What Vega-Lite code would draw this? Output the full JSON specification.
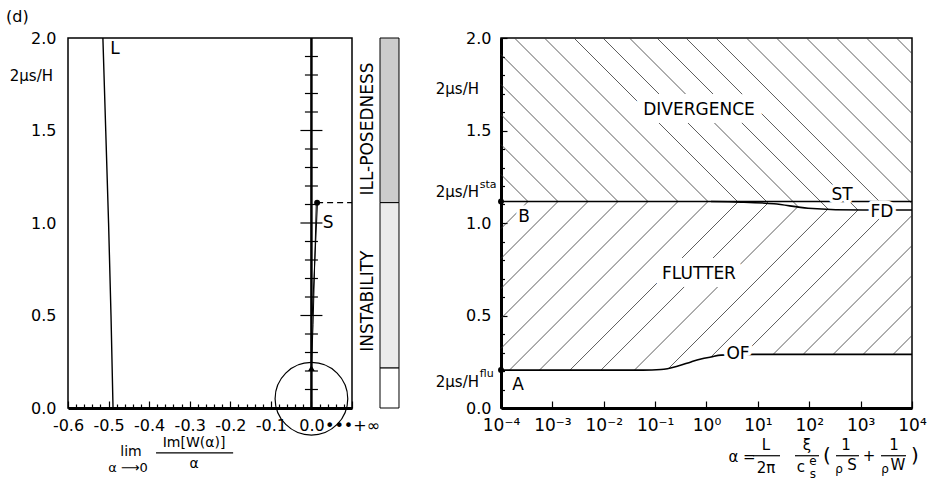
{
"$schema":"https://vega.github.io/schema/vega-lite/v6.json",
"background":"white",
"padding":{"left":5,"top":8,"right":5,"bottom":5},
"config":{"font":"DejaVu Sans","view":{"stroke":"black","strokeWidth":1.5},"axis":{"labelColor":"black","labelFont":"DejaVu Sans","tickColor":"black","domainColor":"black","grid":false,"labelFlush":false,"labelOverlap":false}},
"bounds":"flush",
"spacing":28,
"hconcat":[
{"width":284,"height":370,
"resolve":{"axis":{"x":"independent","y":"independent"}},
"layer":[
{"data":{"values":[{"m":-0.489,"h":0},{"m":-0.494,"h":0.5},{"m":-0.5,"h":1},{"m":-0.507,"h":1.5},{"m":-0.514,"h":2}]},
"mark":{"type":"line","color":"black","strokeWidth":1.4},
"encoding":{
"x":{"field":"m","type":"quantitative","scale":{"domain":[-0.6,0.1],"nice":false,"zero":false},
"axis":{"title":null,"orient":"bottom","values":[-0.6,-0.5,-0.4,-0.3,-0.2,-0.1,0,0.1],"tickSize":-7,"tickWidth":1.2,"labelPadding":16,"domainWidth":3,"labelFontSize":16,"labelExpr":"datum.value > 0.05 ? '•••+∞' : replace(format(datum.value, '.1f'), '−', '-')"}},
"y":{"field":"h","type":"quantitative","scale":{"domain":[0,2],"nice":false,"zero":false},
"axis":{"title":null,"orient":"left","values":[0,0.5,1,1.5,2],"ticks":false,"domain":false,"labelPadding":12,"format":".1f","labelFontSize":16}},
"order":{"field":"h","type":"quantitative"}}},
{"data":{"values":[{"id":1,"m":0,"h":0.216},{"id":1,"m":0.004,"h":0.45},{"id":1,"m":0.012,"h":1.11},{"id":2,"m":0.002,"h":0.5},{"id":2,"m":0.015,"h":1.11}]},
"mark":{"type":"line","color":"black","strokeWidth":1},
"encoding":{
"x":{"field":"m","type":"quantitative","axis":{"title":null,"orient":"bottom","values":[-0.58,-0.56,-0.54,-0.52,-0.48,-0.46,-0.44,-0.42,-0.38,-0.36,-0.34,-0.32,-0.28,-0.26,-0.24,-0.22,-0.18,-0.16,-0.14,-0.12,-0.08,-0.06,-0.04,-0.02,0.02,0.04,0.06,0.08],"tickSize":-4,"tickWidth":1.2,"labels":false,"domain":false}},
"y":{"field":"h","type":"quantitative","axis":null},
"detail":{"field":"id","type":"nominal"},
"order":{"field":"h","type":"quantitative"}}},
{"data":{"values":[{"m":0,"h":0,"h2":2}]},
"mark":{"type":"rule","color":"black","strokeWidth":2.5},
"encoding":{"x":{"field":"m","type":"quantitative","axis":null},"y":{"field":"h","type":"quantitative","axis":null},"y2":{"field":"h2"}}},
{"data":{"values":[{"h":0.1},{"h":0.2},{"h":0.3},{"h":0.4},{"h":0.6},{"h":0.7},{"h":0.8},{"h":0.9},{"h":1.1},{"h":1.2},{"h":1.3},{"h":1.4},{"h":1.6},{"h":1.7},{"h":1.8},{"h":1.9}]},
"mark":{"type":"tick","orient":"horizontal","size":13,"thickness":1.2,"color":"black","opacity":1},
"encoding":{"x":{"datum":0,"type":"quantitative","axis":null},"y":{"field":"h","type":"quantitative","axis":null}}},
{"data":{"values":[{"h":0.5},{"h":1},{"h":1.5}]},
"mark":{"type":"tick","orient":"horizontal","size":22,"thickness":1.2,"color":"black","opacity":1},
"encoding":{"x":{"datum":0,"type":"quantitative","axis":null},"y":{"field":"h","type":"quantitative","axis":null}}},
{"data":{"values":[{"m":0.014,"m2":0.1,"h":1.11}]},
"mark":{"type":"rule","color":"black","strokeWidth":1.2,"strokeDash":[6,4]},
"encoding":{"x":{"field":"m","type":"quantitative","axis":null},"x2":{"field":"m2"},"y":{"field":"h","type":"quantitative","axis":null}}},
{"data":{"values":[{"m":0.014,"h":1.11}]},
"mark":{"type":"point","shape":"circle","filled":true,"color":"black","size":35,"opacity":1},
"encoding":{"x":{"field":"m","type":"quantitative","axis":null},"y":{"field":"h","type":"quantitative","axis":null}}},
{"data":{"values":[{"m":0,"h":0.216}]},
"mark":{"type":"point","shape":"triangle-up","filled":true,"color":"black","size":45,"opacity":1},
"encoding":{"x":{"field":"m","type":"quantitative","axis":null},"y":{"field":"h","type":"quantitative","axis":null}}},
{"data":{"values":[{"m":0,"h":0.05}]},
"mark":{"type":"point","shape":"circle","filled":false,"color":"black","strokeWidth":1.2,"size":5281,"opacity":1},
"encoding":{"x":{"field":"m","type":"quantitative","axis":null},"y":{"field":"h","type":"quantitative","axis":null}}},
{"data":{"values":[{"t":"L","m":-0.484,"h":1.941},{"t":"S","m":0.041,"h":1.0}]},
"mark":{"type":"text","fontSize":17,"color":"black","align":"center","baseline":"middle"},
"encoding":{"x":{"field":"m","type":"quantitative","axis":null},"y":{"field":"h","type":"quantitative","axis":null},"text":{"field":"t"}}},
{"data":{"values":[{"t":"ILL-POSEDNESS","m":0.1395,"h":1.508},{"t":"INSTABILITY","m":0.1395,"h":0.578}]},
"mark":{"type":"text","fontSize":17,"color":"black","align":"center","baseline":"middle","angle":270},
"encoding":{"x":{"field":"m","type":"quantitative","axis":null},"y":{"field":"h","type":"quantitative","axis":null},"text":{"field":"t"}}},
{"data":{"values":[{"t":"(d)","m":-0.7528,"h":2.157}]},
"mark":{"type":"text","fontSize":16,"color":"black","align":"left","baseline":"top"},
"encoding":{"x":{"field":"m","type":"quantitative","axis":null},"y":{"field":"h","type":"quantitative","axis":null},"text":{"field":"t"}}},
{"data":{"values":[{"t":"2μs/H","m":-0.637,"h":1.795}]},
"mark":{"type":"text","fontSize":15,"color":"black","align":"right","baseline":"middle"},
"encoding":{"x":{"field":"m","type":"quantitative","axis":null},"y":{"field":"h","type":"quantitative","axis":null},"text":{"field":"t"}}},
{"data":{"values":[{"t":"lim","m":-0.4447,"h":-0.24},{"t":"Im[W(α)]","m":-0.2894,"h":-0.19},{"t":"α","m":-0.2894,"h":-0.305}]},
"mark":{"type":"text","fontSize":14,"color":"black","align":"center","baseline":"middle"},
"encoding":{"x":{"field":"m","type":"quantitative","axis":null},"y":{"field":"h","type":"quantitative","axis":null},"text":{"field":"t"}}},
{"data":{"values":[{"t":"α ⟶0","m":-0.452,"h":-0.325}]},
"mark":{"type":"text","fontSize":13,"color":"black","align":"center","baseline":"middle"},
"encoding":{"x":{"field":"m","type":"quantitative","axis":null},"y":{"field":"h","type":"quantitative","axis":null},"text":{"field":"t"}}},
{"data":{"values":[{"m":-0.383,"m2":-0.193,"h":-0.243}]},
"mark":{"type":"rule","color":"black","strokeWidth":1.2},
"encoding":{"x":{"field":"m","type":"quantitative","axis":null},"x2":{"field":"m2"},"y":{"field":"h","type":"quantitative","axis":null}}}
]},
{"width":93,"height":370,"view":{"stroke":null},
"data":{"values":[{"zone":"ill-posedness","lo":1.11,"hi":2.0},{"zone":"instability","lo":0.216,"hi":1.11},{"zone":"stable","lo":0,"hi":0.216}]},
"mark":{"type":"rect","stroke":"black","strokeWidth":1},
"encoding":{
"x":{"datum":0,"type":"quantitative","scale":{"domain":[0,4.895],"nice":false,"zero":false},"axis":null},
"x2":{"datum":1},
"y":{"field":"lo","type":"quantitative","scale":{"domain":[0,2],"nice":false},"axis":null},"y2":{"field":"hi"},
"fill":{"field":"zone","type":"nominal","scale":{"domain":["ill-posedness","instability","stable"],"range":["#cccccc","#ebebeb","#ffffff"]},"legend":null}}},
{"width":411,"height":370,
"resolve":{"axis":{"x":"independent","y":"independent"}},
"layer":[
{"data":{"values":[
{"a":0.0003353,"b":1.116,"a2":0.0001,"b2":1.262},
{"a":0.0012864,"b":1.116,"a2":0.0001,"b2":1.424},
{"a":0.004935,"b":1.116,"a2":0.0001,"b2":1.586},
{"a":0.018934,"b":1.116,"a2":0.0001,"b2":1.749},
{"a":0.07264,"b":1.116,"a2":0.0001,"b2":1.911},
{"a":0.27869,"b":1.116,"a2":0.0001832,"b2":2},
{"a":1.0692,"b":1.116,"a2":0.0007025,"b2":2},
{"a":4.102,"b":1.1135,"a2":0.002636,"b2":2},
{"a":15.737,"b":1.108,"a2":0.009669,"b2":2},
{"a":60.38,"b":1.089,"a2":0.03171,"b2":2},
{"a":231.6,"b":1.076,"a2":0.10877,"b2":2},
{"a":888.6,"b":1.07,"a2":0.399,"b2":2},
{"a":3409,"b":1.07,"a2":1.5306,"b2":2},
{"a":10000,"b":1.105,"a2":6.005,"b2":2},
{"a":10000,"b":1.268,"a2":23.04,"b2":2},
{"a":10000,"b":1.43,"a2":88.43,"b2":2},
{"a":10000,"b":1.592,"a2":339.1,"b2":2},
{"a":10000,"b":1.754,"a2":1301,"b2":2},
{"a":10000,"b":1.916,"a2":4993,"b2":2},
{"a":0.0003353,"b":1.116,"a2":0.0001,"b2":0.97},
{"a":0.0012864,"b":1.116,"a2":0.0001,"b2":0.808},
{"a":0.004935,"b":1.116,"a2":0.0001,"b2":0.646},
{"a":0.018934,"b":1.116,"a2":0.0001,"b2":0.484},
{"a":0.07264,"b":1.116,"a2":0.0001,"b2":0.322},
{"a":0.27869,"b":1.116,"a2":0.00014645,"b2":0.205},
{"a":1.0692,"b":1.116,"a2":0.0005616,"b2":0.205},
{"a":4.102,"b":1.1135,"a2":0.002203,"b2":0.205},
{"a":15.737,"b":1.108,"a2":0.008843,"b2":0.205},
{"a":60.38,"b":1.089,"a2":0.03967,"b2":0.205},
{"a":231.6,"b":1.076,"a2":0.1879,"b2":0.217},
{"a":888.6,"b":1.07,"a2":1.2233,"b2":0.276},
{"a":3409,"b":1.07,"a2":5.252,"b2":0.289},
{"a":10000,"b":1.041,"a2":19.88,"b2":0.29},
{"a":10000,"b":0.878,"a2":76.24,"b2":0.29},
{"a":10000,"b":0.716,"a2":292.6,"b2":0.29},
{"a":10000,"b":0.554,"a2":1122,"b2":0.29},
{"a":10000,"b":0.392,"a2":4305,"b2":0.29}
]},
"mark":{"type":"rule","color":"#333333","strokeWidth":0.8},
"encoding":{
"x":{"field":"a","type":"quantitative","scale":{"type":"log","domain":[0.0001,10000],"nice":false},
"axis":{"title":null,"orient":"bottom","values":[0.0001,0.001,0.01,0.1,1,10,100,1000,10000],"tickSize":-7,"tickWidth":1.2,"labelPadding":16,"domainWidth":3,"labelFontSize":17,"labelExpr":"'10' + (datum.value < 1 ? '⁻' : '') + ['⁰','¹','²','³','⁴'][abs(round(log(datum.value)/LN10))]"}},
"x2":{"field":"a2"},
"y":{"field":"b","type":"quantitative","scale":{"domain":[0,2],"nice":false,"zero":false},
"axis":{"title":null,"orient":"left","values":[0,0.5,1,1.5,2],"tickSize":-6,"tickWidth":1.2,"labelPadding":16,"domainWidth":3,"format":".1f","labelFontSize":16}},
"y2":{"field":"b2"}}},
{"data":{"values":[
{"curve":"ST","a":0.0001,"b":1.116},{"curve":"ST","a":10000,"b":1.116},
{"curve":"FD","a":1.224,"b":1.116},{"curve":"FD","a":4.677,"b":1.113},{"curve":"FD","a":20.6,"b":1.104},{"curve":"FD","a":94.6,"b":1.08},{"curve":"FD","a":1112,"b":1.07},{"curve":"FD","a":10000,"b":1.07},
{"curve":"OF","a":0.0001,"b":0.205},{"curve":"OF","a":0.05808,"b":0.205},{"curve":"OF","a":0.13,"b":0.208},{"curve":"OF","a":0.2786,"b":0.227},{"curve":"OF","a":0.4989,"b":0.249},{"curve":"OF","a":0.7816,"b":0.265},{"curve":"OF","a":1.2246,"b":0.276},{"curve":"OF","a":1.914,"b":0.286},{"curve":"OF","a":8.414,"b":0.29},{"curve":"OF","a":10000,"b":0.29}
]},
"mark":{"type":"line","color":"black","strokeWidth":1.6,"interpolate":"monotone"},
"encoding":{
"x":{"field":"a","type":"quantitative","axis":null},
"y":{"field":"b","type":"quantitative","axis":{"title":null,"orient":"left","values":[0.1,0.2,0.3,0.4,0.6,0.7,0.8,0.9,1.1,1.2,1.3,1.4,1.6,1.7,1.8,1.9],"tickSize":-3.5,"tickWidth":1.2,"labels":false,"domain":false}},
"detail":{"field":"curve","type":"nominal"}}},
{"data":{"values":[{"a":0.0001,"b":1.116},{"a":0.0001,"b":0.205}]},
"mark":{"type":"point","shape":"circle","filled":true,"color":"black","size":35,"opacity":1},
"encoding":{"x":{"field":"a","type":"quantitative","axis":null},"y":{"field":"b","type":"quantitative","axis":null}}},
{"data":{"values":[{"t":"DIVERGENCE","a":0.7145,"b":1.611},{"t":"FLUTTER","a":0.7145,"b":0.724}]},
"mark":{"type":"text","fontSize":17,"fill":"white","stroke":"white","strokeWidth":16,"strokeJoin":"round","align":"center","baseline":"middle"},
"encoding":{"x":{"field":"a","type":"quantitative","axis":null},"y":{"field":"b","type":"quantitative","axis":null},"text":{"field":"t"}}},
{"data":{"values":[{"t":"ST","a":434,"b":1.151},{"t":"FD","a":2606,"b":1.059},{"t":"OF","a":4.103,"b":0.292},{"t":"A","a":0.0002144,"b":0.124},{"t":"B","a":0.0002805,"b":1.032}]},
"mark":{"type":"text","fontSize":17,"fill":"white","stroke":"white","strokeWidth":7,"strokeJoin":"round","align":"center","baseline":"middle"},
"encoding":{"x":{"field":"a","type":"quantitative","axis":null},"y":{"field":"b","type":"quantitative","axis":null},"text":{"field":"t"}}},
{"data":{"values":[{"t":"DIVERGENCE","a":0.7145,"b":1.611},{"t":"FLUTTER","a":0.7145,"b":0.724},{"t":"ST","a":434,"b":1.151},{"t":"FD","a":2606,"b":1.059},{"t":"OF","a":4.103,"b":0.292},{"t":"A","a":0.0002144,"b":0.124},{"t":"B","a":0.0002805,"b":1.032}]},
"mark":{"type":"text","fontSize":17,"color":"black","align":"center","baseline":"middle"},
"encoding":{"x":{"field":"a","type":"quantitative","axis":null},"y":{"field":"b","type":"quantitative","axis":null},"text":{"field":"t"}}},
{"data":{"values":[{"t":"2μs/H","a":0.00003733,"b":1.724},{"t":"2μs/H","a":0.00003733,"b":1.168},{"t":"2μs/H","a":0.00003733,"b":0.141}]},
"mark":{"type":"text","fontSize":15,"color":"black","align":"right","baseline":"middle"},
"encoding":{"x":{"field":"a","type":"quantitative","axis":null},"y":{"field":"b","type":"quantitative","axis":null},"text":{"field":"t"}}},
{"data":{"values":[{"t":"sta","a":0.0000385,"b":1.205},{"t":"flu","a":0.0000385,"b":0.184}]},
"mark":{"type":"text","fontSize":11,"color":"black","align":"left","baseline":"middle"},
"encoding":{"x":{"field":"a","type":"quantitative","axis":null},"y":{"field":"b","type":"quantitative","axis":null},"text":{"field":"t"}}},
{"data":{"values":[{"t":"α =","a":4.909,"b":-0.264},{"t":"L","a":14.39,"b":-0.198},{"t":"2π","a":14.39,"b":-0.322},{"t":"ξ","a":90.36,"b":-0.198},{"t":"c","a":69.02,"b":-0.32},{"t":"1","a":518.8,"b":-0.198},{"t":"S","a":679.2,"b":-0.31},{"t":"+","a":1455,"b":-0.262},{"t":"1","a":4467,"b":-0.198},{"t":"W","a":5346,"b":-0.31}]},
"mark":{"type":"text","fontSize":15,"color":"black","align":"center","baseline":"middle"},
"encoding":{"x":{"field":"a","type":"quantitative","axis":null},"y":{"field":"b","type":"quantitative","axis":null},"text":{"field":"t"}}},
{"data":{"values":[{"t":"e","a":118.3,"b":-0.284},{"t":"s","a":118.3,"b":-0.356},{"t":"ρ","a":379.3,"b":-0.332},{"t":"ρ","a":2979,"b":-0.332}]},
"mark":{"type":"text","fontSize":12,"color":"black","align":"center","baseline":"middle"},
"encoding":{"x":{"field":"a","type":"quantitative","axis":null},"y":{"field":"b","type":"quantitative","axis":null},"text":{"field":"t"}}},
{"data":{"values":[{"t":"(","a":221.3,"b":-0.262},{"t":")","a":11429,"b":-0.262}]},
"mark":{"type":"text","fontSize":20,"color":"black","align":"center","baseline":"middle"},
"encoding":{"x":{"field":"a","type":"quantitative","axis":null},"y":{"field":"b","type":"quantitative","axis":null},"text":{"field":"t"}}},
{"data":{"values":[{"a":8.035,"a2":26.98,"b":-0.258},{"a":52.8,"a2":154.9,"b":-0.258},{"a":331.9,"a2":928.9,"b":-0.258},{"a":2495,"a2":7638,"b":-0.258}]},
"mark":{"type":"rule","color":"black","strokeWidth":1.2},
"encoding":{"x":{"field":"a","type":"quantitative","axis":null},"x2":{"field":"a2"},"y":{"field":"b","type":"quantitative","axis":null}}}
]}
]
}
